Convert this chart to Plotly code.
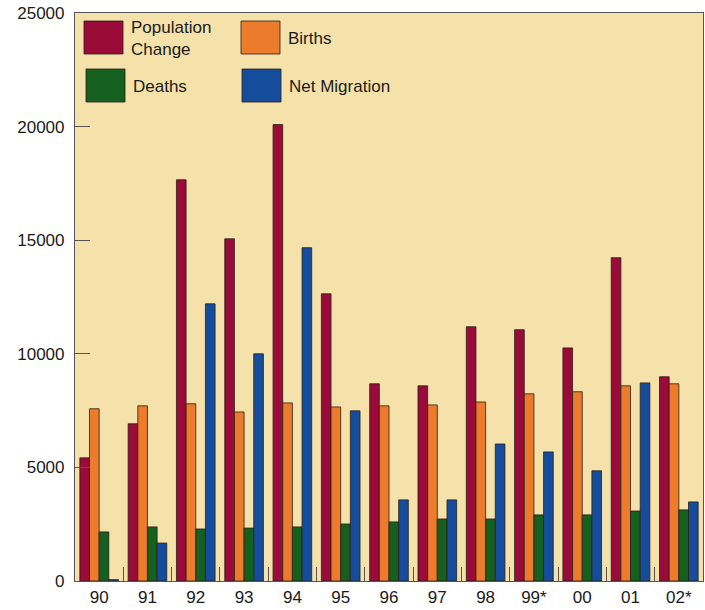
import plotly.graph_objects as go

years = ["90", "91", "92", "93", "94", "95", "96", "97", "98", "99*", "00", "01", "02*"]
population_change = [5420, 6920, 17660, 15060, 20090, 12640, 8680, 8590, 11190, 11060, 10260, 14230, 8990]
births = [7580, 7710, 7800, 7440, 7840, 7660, 7710, 7750, 7880, 8240, 8330, 8590, 8680]
deaths = [2160, 2380, 2290, 2330, 2380, 2510, 2600, 2730, 2730, 2910, 2910, 3080, 3130]
net_migration = [60, 1670, 12200, 10000, 14670, 7490, 3570, 3570, 6030, 5680, 4850, 8720, 3480]

series = [
    ("Population<br>Change", population_change, "#9a0b3a"),
    ("Births", births, "#ec7b2b"),
    ("Deaths", deaths, "#15601f"),
    ("Net Migration", net_migration, "#154d9c"),
]

W, H = 705, 610
L, R, T, B = 75, 2, 13, 29
pw, ph = W - L - R, H - T - B

fig = go.Figure()
for name, vals, col in series:
    fig.add_trace(go.Bar(x=years, y=vals, name=name.replace("<br>", " "),
                         marker=dict(color=col, line=dict(color="#2b1d16", width=0.8)),
                         showlegend=False))

def px(x):
    return (x - L) / pw

def py(y):
    return (H - B - y) / ph

legend_items = [
    (84, 21, series[0][0], series[0][2]),
    (241, 21, series[1][0], series[1][2]),
    (86, 69, series[2][0], series[2][2]),
    (242, 69, series[3][0], series[3][2]),
]
shapes = []
annotations = []
for x0, y0, label, col in legend_items:
    shapes.append(dict(type="rect", xref="paper", yref="paper",
                       x0=px(x0), x1=px(x0 + 39), y0=py(y0 + 33), y1=py(y0),
                       fillcolor=col, line=dict(color="#2b1d16", width=0.8)))
    annotations.append(dict(xref="paper", yref="paper", x=px(x0 + 45), y=py(y0 + 17),
                            xanchor="left", yanchor="middle", text=label, showarrow=False,
                            align="left",
                            font=dict(family="Liberation Sans, Arial", size=17, color="#1a1a1a")))

fig.update_layout(
    width=W, height=H,
    margin=dict(l=L, r=R, t=T, b=B),
    paper_bgcolor="white",
    plot_bgcolor="#f5e2ab",
    barmode="group",
    bargap=0.2,
    bargroupgap=0,
    font=dict(family="Liberation Sans, Arial", size=17, color="#1a1a1a"),
    shapes=shapes,
    annotations=annotations,
    xaxis=dict(showgrid=False, ticks="inside", tickson="boundaries", ticklen=14,
               tickcolor="#555", showline=True, linecolor="#555", mirror=True,
               linewidth=1.2, tickfont=dict(size=17)),
    yaxis=dict(range=[0, 25000], dtick=5000, tickformat="d", showgrid=False, zeroline=False,
               ticks="inside", ticklen=15, tickcolor="#555", showline=True,
               linecolor="#555", linewidth=1.2, mirror=True, tickfont=dict(size=17),
               ticklabelstandoff=6),
)

fig.write_html("out.html", config={"displayModeBar": False},
               post_script="document.body.style.margin='0';document.body.style.overflow='hidden';")
